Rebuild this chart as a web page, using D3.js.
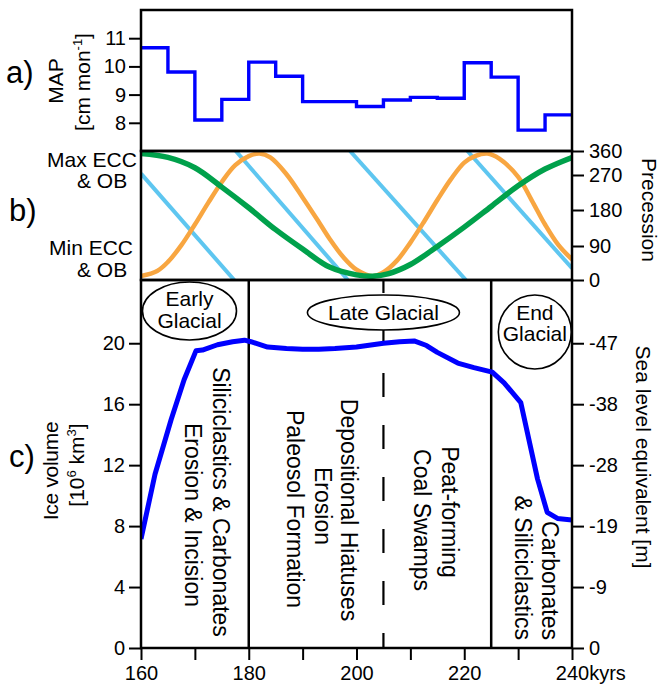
<!DOCTYPE html>
<html>
<head>
<meta charset="utf-8">
<script src="https://cdn.jsdelivr.net/npm/d3@7"></script>
<style>
body { margin: 0; background: #fff; }
svg text { font-family: "Liberation Sans", Arial, Helvetica, sans-serif; fill: #000; }
</style>
</head>
<body>
<svg id="chart" width="659" height="691"></svg>
<script>
// a) mean annual precipitation, 5 kyr steps
var mapAge = [160, 165, 170, 175, 180, 185, 190, 195, 200, 205, 210, 215, 220, 225, 230, 235, 240];
var mapValue = [10.66, 9.80, 8.10, 8.83, 10.15, 9.65, 8.75, 8.75, 8.58, 8.81, 8.90, 8.87, 10.13, 9.62, 7.74, 8.28, 8.28];
var mapTicks = [8, 9, 10, 11];

// b) eccentricity (green), obliquity (orange), 0 = min, 1 = max
var eccAge = [160, 165, 170, 175, 180, 185, 190, 195, 200, 203, 206, 210, 215, 220, 225, 230, 235, 240];
var eccValue = [0.98, 0.95, 0.87, 0.72, 0.56, 0.39, 0.24, 0.10, 0.04, 0.03, 0.05, 0.12, 0.26, 0.41, 0.57, 0.73, 0.86, 0.95];
var oblAge = [160, 163, 165, 167.5, 170, 172.5, 175, 177.5, 180, 182, 184, 187, 190, 193, 195, 197.5, 200, 203,
              205, 207.5, 210, 212.5, 215, 217.5, 220, 222, 224.3, 226.5, 230, 232.5, 235, 237.5, 240];
var oblValue = [0.03, 0.07, 0.14, 0.27, 0.43, 0.60, 0.76, 0.89, 0.96, 0.98, 0.95, 0.82, 0.64, 0.45, 0.32, 0.18, 0.08, 0.03,
                0.06, 0.15, 0.29, 0.45, 0.62, 0.78, 0.91, 0.96, 0.98, 0.94, 0.80, 0.62, 0.43, 0.27, 0.16];
// precession sawtooth, one straight run per cycle
var precStartAge = [160, 177.6, 198.8, 220.6];
var precStartDeg = [275, 360, 360, 360];
var precEndAge = [177.3, 198.4, 220.3, 240];
var precEndDeg = [0, 0, 0, 31];
var precTicks = [0, 90, 180, 270, 360];

// c) ice volume
var iceAge = [160, 162.6, 165.6, 168, 170.2, 171.4, 174.2, 177, 179.2, 180.4, 183.5, 187, 190, 193, 196, 200, 205,
              208, 210.7, 213, 215, 218.8, 221.8, 225.2, 227.4, 230.5, 233.6, 235.4, 237.3, 240];
var iceVolume = [7.15, 11.4, 15.0, 17.6, 19.5, 19.55, 19.9, 20.1, 20.2, 20.1, 19.75, 19.65, 19.6, 19.6, 19.65, 19.75, 20.0,
                 20.1, 20.15, 19.85, 19.4, 18.7, 18.4, 18.1, 17.4, 16.1, 11.1, 8.9, 8.5, 8.4];
var iceTicks = [0, 4, 8, 12, 16, 20];
var seaLevelLabels = ["0", "-9", "-19", "-28", "-38", "-47"];
var solidBounds = [180, 225];
var dashedBounds = [205];
var ageTicks = [160, 170, 180, 190, 200, 210, 220, 230, 240];

var svg = d3.select("svg#chart");
var L = 141, R = 572, T = 10, AB = 151, BC = 280, B = 648;

var x = d3.scaleLinear().domain([160, 240]).range([L, R]);
var yMap = d3.scaleLinear().domain([7, 12]).range([AB, T]);
var yOrb = d3.scaleLinear().domain([0, 1]).range([BC, AB]);
var yPrec = d3.scaleLinear().domain(precTicks).range([BC, 246, 210, 175, AB]);
var yIce = d3.scaleLinear().domain([0, 24.15]).range([B, BC]);

var defs = svg.append("defs");
[["clipA", T, AB], ["clipB", AB, BC], ["clipC", BC, B]].forEach(function(c) {
  defs.append("clipPath").attr("id", c[0])
    .append("rect").attr("x", L).attr("y", c[1]).attr("width", R - L).attr("height", c[2] - c[1]);
});

// ---------- panel a
var mapData = mapAge.map(function(d, i) { return [d, mapValue[i]]; });
svg.append("path")
  .datum(mapData)
  .attr("clip-path", "url(#clipA)")
  .attr("fill", "none")
  .attr("stroke", "#0000ff")
  .attr("stroke-width", 3.4)
  .attr("d", d3.line().curve(d3.curveStepAfter)
    .x(function(d) { return x(d[0]); })
    .y(function(d) { return yMap(d[1]); }));

// ---------- panel b
var gB = svg.append("g").attr("clip-path", "url(#clipB)");
var orbLine = d3.line().curve(d3.curveCatmullRom)
  .x(function(d) { return x(d[0]); })
  .y(function(d) { return yOrb(d[1]); });

precStartAge.forEach(function(a, i) {
  gB.append("line")
    .attr("x1", x(a)).attr("y1", yPrec(precStartDeg[i]))
    .attr("x2", x(precEndAge[i])).attr("y2", yPrec(precEndDeg[i]))
    .attr("stroke", "#5ec6f0")
    .attr("stroke-width", 4);
});
gB.append("path")
  .datum(oblAge.map(function(d, i) { return [d, oblValue[i]]; }))
  .attr("fill", "none").attr("stroke", "#f8a641").attr("stroke-width", 4.5)
  .attr("d", orbLine);
gB.append("path")
  .datum(eccAge.map(function(d, i) { return [d, eccValue[i]]; }))
  .attr("fill", "none").attr("stroke", "#00a14b").attr("stroke-width", 5.5)
  .attr("d", orbLine);

// ---------- panel c
var gC = svg.append("g").attr("clip-path", "url(#clipC)");
gC.selectAll("line.solid")
  .data(solidBounds)
  .enter().append("line")
  .attr("class", "solid")
  .attr("x1", x).attr("x2", x)
  .attr("y1", BC).attr("y2", B)
  .attr("stroke", "#000").attr("stroke-width", 2.5);
gC.selectAll("line.dashed")
  .data(dashedBounds)
  .enter().append("line")
  .attr("class", "dashed")
  .attr("x1", x).attr("x2", x)
  .attr("y1", BC).attr("y2", B)
  .attr("stroke", "#000").attr("stroke-width", 2.2)
  .attr("stroke-dasharray", "24,28")
  .attr("stroke-dashoffset", 11);

gC.append("path")
  .datum(iceAge.map(function(d, i) { return [d, iceVolume[i]]; }))
  .attr("fill", "none")
  .attr("stroke", "#0000ff")
  .attr("stroke-width", 5)
  .attr("stroke-linejoin", "round")
  .attr("d", d3.line()
    .x(function(d) { return x(d[0]); })
    .y(function(d) { return yIce(d[1]); }));

// glacial phase bubbles
var phases = [
  { cx: 169.0, cy: 311, rx: 47, ry: 29, lines: ["Early", "Glacial"], base: [305.5, 327.5] },
  { cx: 205.0, cy: 312.5, rx: 76, ry: 17.5, lines: ["Late Glacial"], base: [320] },
  { cx: 233.1, cy: 332, rx: 36.5, ry: 37, lines: ["End", "Glacial"], base: [320, 341] }
];
phases.forEach(function(p) {
  svg.append("ellipse")
    .attr("cx", x(p.cx)).attr("cy", p.cy)
    .attr("rx", p.rx).attr("ry", p.ry)
    .attr("fill", "#fff").attr("stroke", "#000").attr("stroke-width", 1.6);
  p.lines.forEach(function(t, j) {
    svg.append("text")
      .attr("x", x(p.cx)).attr("y", p.base[j])
      .attr("text-anchor", "middle")
      .style("font-size", "21px")
      .text(t);
  });
});

// rotated process notes
var notes = [
  { t: "Siliciclastics & Carbonates", age: 173.4, y: 502, anchor: "middle" },
  { t: "Erosion & Incision", age: 168.2, y: 515, anchor: "middle" },
  { t: "Depositional Hiatuses", age: 197.1, y: 510, anchor: "middle" },
  { t: "Erosion", age: 192.3, y: 506, anchor: "middle" },
  { t: "Paleosol Formation", age: 187.1, y: 509, anchor: "middle" },
  { t: "Peat-forming", age: 215.9, y: 512, anchor: "middle" },
  { t: "Coal Swamps", age: 210.7, y: 520, anchor: "middle" },
  { t: "Carbonates", age: 234.4, y: 640, anchor: "end" },
  { t: "& Siliciclastics", age: 229.4, y: 640, anchor: "end" }
];
svg.selectAll("text.note")
  .data(notes)
  .enter().append("text")
  .attr("class", "note")
  .attr("transform", function(d) { return "translate(" + x(d.age) + "," + d.y + ") rotate(90)"; })
  .attr("text-anchor", function(d) { return d.anchor; })
  .style("font-size", "23px")
  .text(function(d) { return d.t; });

// frames
[[T, AB], [AB, BC], [BC, B]].forEach(function(f) {
  svg.append("rect")
    .attr("x", L).attr("y", f[0])
    .attr("width", R - L).attr("height", f[1] - f[0])
    .attr("fill", "none").attr("stroke", "#000").attr("stroke-width", 2.5);
});

// axes
function styleAxis(g) {
  g.select(".domain").remove();
  g.selectAll(".tick line").attr("stroke", "#000").attr("stroke-width", 2);
  g.selectAll(".tick text").style("font-size", "20px").attr("fill", "#000").style("font-family", null);
}

svg.append("g")
  .attr("transform", "translate(" + L + ",0)")
  .call(d3.axisLeft(yMap).tickValues(mapTicks).tickSize(12).tickPadding(3).tickFormat(d3.format("d")))
  .call(styleAxis);

svg.append("g")
  .attr("transform", "translate(" + R + ",0)")
  .call(d3.axisRight(yPrec).tickValues(precTicks).tickSize(12).tickPadding(5).tickFormat(d3.format("d")))
  .call(styleAxis);

svg.append("g")
  .attr("transform", "translate(" + L + ",0)")
  .call(d3.axisLeft(yIce).tickValues(iceTicks).tickSize(12).tickPadding(4).tickFormat(d3.format("d")))
  .call(styleAxis);

svg.append("g")
  .attr("transform", "translate(" + R + ",0)")
  .call(d3.axisRight(yIce).tickValues(iceTicks).tickSize(12).tickPadding(5)
    .tickFormat(function(d, i) { return seaLevelLabels[i]; }))
  .call(styleAxis);

var xAxisG = svg.append("g")
  .attr("transform", "translate(0," + B + ")")
  .call(d3.axisBottom(x).tickValues(ageTicks).tickSize(12).tickPadding(6)
    .tickFormat(function(d) { return d % 20 === 0 ? (d === 240 ? "240kyrs" : d) : ""; }))
  .call(styleAxis);
xAxisG.selectAll(".tick text")
  .filter(function(d) { return d === 240; })
  .attr("text-anchor", "start")
  .attr("x", -16.7);

// titles
svg.append("text").attr("x", 6).attr("y", 83).style("font-size", "31px").text("a)");
svg.append("text").attr("x", 9).attr("y", 221).style("font-size", "31px").text("b)");
svg.append("text").attr("x", 9).attr("y", 467).style("font-size", "31px").text("c)");

svg.append("text")
  .attr("transform", "translate(63,81) rotate(-90)")
  .attr("text-anchor", "middle").style("font-size", "21px").text("MAP");
var cmLabel = svg.append("text")
  .attr("transform", "translate(90,82) rotate(-90)")
  .attr("text-anchor", "middle").style("font-size", "21px");
cmLabel.append("tspan").text("[cm mon");
cmLabel.append("tspan").attr("dy", -8).style("font-size", "13px").text("-1");
cmLabel.append("tspan").attr("dy", 8).text("]");

[["Max ECC", 47, 166.5], ["& OB", 77, 188], ["Min ECC", 49, 255], ["& OB", 77, 276.5]].forEach(function(t) {
  svg.append("text").attr("x", t[1]).attr("y", t[2]).style("font-size", "21px").text(t[0]);
});

svg.append("text")
  .attr("transform", "translate(641.5,210) rotate(90)")
  .attr("text-anchor", "middle").style("font-size", "21px").text("Precession");

svg.append("text")
  .attr("transform", "translate(58,471) rotate(-90)")
  .attr("text-anchor", "middle").style("font-size", "21px").style("letter-spacing", "-0.3px")
  .text("Ice volume");
var kmLabel = svg.append("text")
  .attr("transform", "translate(84,465) rotate(-90)")
  .attr("text-anchor", "middle").style("font-size", "21px");
kmLabel.append("tspan").text("[10");
kmLabel.append("tspan").attr("dy", -8).style("font-size", "13px").text("6");
kmLabel.append("tspan").attr("dy", 8).text(" km");
kmLabel.append("tspan").attr("dy", -8).style("font-size", "13px").text("3");
kmLabel.append("tspan").attr("dy", 8).text("]");

svg.append("text")
  .attr("transform", "translate(636,457) rotate(90)")
  .attr("text-anchor", "middle").style("font-size", "21px").text("Sea level equivalent [m]");
</script>
</body>
</html>
